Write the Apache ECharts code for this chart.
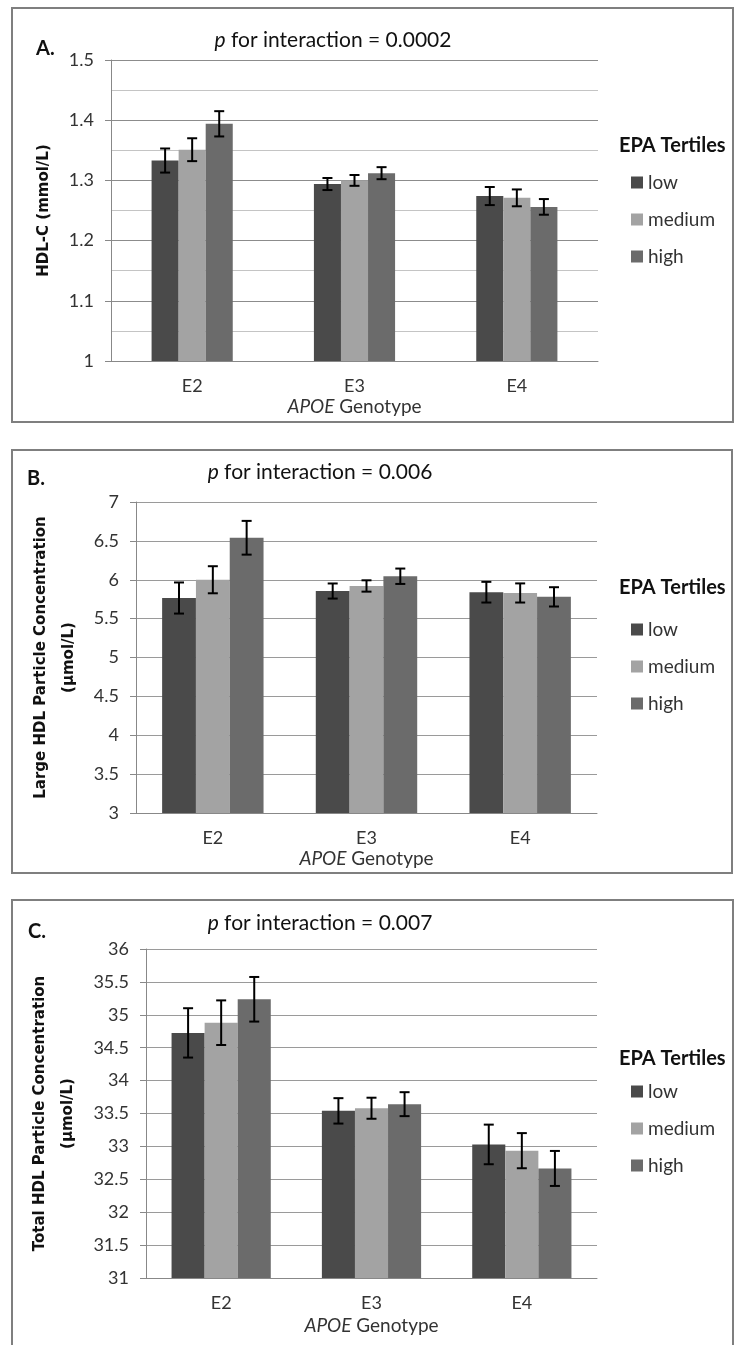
<!DOCTYPE html>
<html>
<head>
<meta charset="utf-8">
<script src="https://cdn.jsdelivr.net/npm/echarts/dist/echarts.min.js"></script>
<style>
html,body{margin:0;padding:0;background:#fff;}
#chart{width:734px;height:1345px;}
</style>
</head>
<body>
<div id="chart"></div>
<script>
// ---------- data ----------
const categories = ['E2', 'E3', 'E4'];
const tertiles = ['low', 'medium', 'high'];

// Panel A: HDL-C (mmol/L)
const hdlcLow = [1.333, 1.294, 1.274];
const hdlcMedium = [1.351, 1.300, 1.271];
const hdlcHigh = [1.394, 1.312, 1.256];
const hdlcLowErr = [0.020, 0.010, 0.015];
const hdlcMediumErr = [0.019, 0.009, 0.014];
const hdlcHighErr = [0.021, 0.010, 0.013];
const hdlcTicks = [1, 1.5, 0.1]; // min, max, step

// Panel B: Large HDL particle concentration (µmol/L)
const largeLow = [5.765, 5.855, 5.840];
const largeMedium = [6.000, 5.920, 5.830];
const largeHigh = [6.540, 6.045, 5.780];
const largeLowErr = [0.200, 0.097, 0.133];
const largeMediumErr = [0.174, 0.073, 0.123];
const largeHighErr = [0.217, 0.099, 0.124];
const largeTicks = [3, 7, 0.5];

// Panel C: Total HDL particle concentration (µmol/L)
const totalLow = [34.725, 33.540, 33.030];
const totalMedium = [34.880, 33.580, 32.935];
const totalHigh = [35.236, 33.642, 32.665];
const totalLowErr = [0.375, 0.193, 0.301];
const totalMediumErr = [0.339, 0.160, 0.267];
const totalHighErr = [0.339, 0.182, 0.266];
const totalTicks = [31, 36, 0.5];

const panelTitles = ['0.0002', '0.006', '0.007'];
const panelLetters = ['A.', 'B.', 'C.'];
const yNames = ['HDL-C (mmol/L)', 'Large HDL Particle Concentration\n(µmol/L)', 'Total HDL Particle Concentration\n(µmol/L)'];

// ---------- styling ----------
const colors = ['#4a4a4a', '#a3a3a3', '#6b6b6b'];
const LAT = 'Lato, "Open Sans", sans-serif';
const DJ = '"DejaVu Sans", Verdana, sans-serif';
const txt = '#333';

const grids = [
  {left: 111, right: 136, top: 60, bottom: 984},
  {left: 136, right: 137, top: 502, bottom: 532},
  {left: 146, right: 137, top: 949, bottom: 67}
];
const gaps = ['50%', '34%', '34%'];
const nameGaps = [52, 41, 51];
const boxes = [[12, 8, 721, 414], [12, 450, 720, 423], [12, 900, 721, 470]];
const titlePos = [[333, 40], [320, 472], [320, 923]];
const letterPos = [[36, 49], [27, 479], [28, 932]];
const legendHead = [146, 588, 1059];
const legendTop = [168, 615, 1077];

const panels = [
  {means: [hdlcLow, hdlcMedium, hdlcHigh], errs: [hdlcLowErr, hdlcMediumErr, hdlcHighErr], ticks: hdlcTicks},
  {means: [largeLow, largeMedium, largeHigh], errs: [largeLowErr, largeMediumErr, largeHighErr], ticks: largeTicks},
  {means: [totalLow, totalMedium, totalHigh], errs: [totalLowErr, totalMediumErr, totalHighErr], ticks: totalTicks}
];

const xAxes = [], yAxes = [], series = [], legends = [], graphics = [];

panels.forEach((p, gi) => {
  xAxes.push({
    type: 'category', gridIndex: gi, data: categories,
    axisLine: {lineStyle: {color: '#888', width: 1}},
    axisTick: {show: false},
    axisLabel: {color: txt, fontFamily: LAT, fontSize: 18, margin: 16},
    name: '{i|APOE}{n| Genotype}', nameLocation: 'middle', nameGap: gi === 2 ? 38 : 36,
    nameTextStyle: {
      rich: {
        i: {fontStyle: 'italic', fontFamily: LAT, fontSize: 19, color: txt},
        n: {fontFamily: LAT, fontSize: 19, color: txt}
      }
    }
  });
  const isA = gi === 0;
  yAxes.push({
    type: 'value', gridIndex: gi,
    min: p.ticks[0], max: p.ticks[1], interval: p.ticks[2],
    axisLine: {show: true, lineStyle: {color: '#888', width: 1}},
    axisTick: {show: true, length: 6, lineStyle: {color: '#888'}},
    axisLabel: {color: txt, fontFamily: LAT, fontSize: 18, margin: 17},
    splitLine: {show: true, lineStyle: {color: isA ? '#8c8c8c' : '#9a9a9a', width: 1}},
    minorTick: {show: false, splitNumber: 2},
    minorSplitLine: {show: isA, lineStyle: {color: '#c4c4c4', width: 1}},
    name: yNames[gi], nameLocation: 'middle', nameGap: nameGaps[gi],
    nameTextStyle: {fontFamily: DJ, fontWeight: 'bold', fontSize: 15, color: '#111', lineHeight: 28}
  });

  const g = parseFloat(gaps[gi]) / 100;
  tertiles.forEach((t, i) => {
    series.push({
      type: 'bar', name: t, xAxisIndex: gi, yAxisIndex: gi,
      data: p.means[i], barGap: '0%', barCategoryGap: gaps[gi],
      itemStyle: {color: colors[i]}, z: 2, silent: true
    });
  });
  const errData = [];
  p.means.forEach((arr, i) => arr.forEach((v, c) => errData.push([c, v, p.errs[i][c], i])));
  series.push({
    type: 'custom', name: 'SE ' + gi, xAxisIndex: gi, yAxisIndex: gi, z: 5, silent: true,
    data: errData, encode: {x: 0, y: 1},
    renderItem: (params, api) => {
      const ci = api.value(0), v = api.value(1), e = api.value(2), s = api.value(3);
      const base = api.coord([ci, v]);
      const cw = api.size([1, 0])[0];
      const bw = cw * (1 - g) / 3;
      const x = base[0] + (s - 1) * bw;
      const yt = api.coord([ci, v + e])[1];
      const yb = api.coord([ci, v - e])[1];
      const h = 5;
      const st = {stroke: '#000', lineWidth: 2};
      return {type: 'group', children: [
        {type: 'line', shape: {x1: x, y1: yt, x2: x, y2: yb}, style: st},
        {type: 'line', shape: {x1: x - h, y1: yt, x2: x + h, y2: yt}, style: st},
        {type: 'line', shape: {x1: x - h, y1: yb, x2: x + h, y2: yb}, style: st}
      ]};
    }
  });

  legends.push({
    data: tertiles, orient: 'vertical', left: 626, top: legendTop[gi],
    itemWidth: 12, itemHeight: 12, itemGap: 18, icon: 'rect',
    selectedMode: false,
    textStyle: {fontFamily: LAT, fontSize: 19, color: txt, padding: [0, 0, 0, 0]}
  });

  const b = boxes[gi];
  graphics.push({type: 'rect', shape: {x: b[0], y: b[1], width: b[2], height: b[3]},
    style: {fill: 'none', stroke: '#7f7f7f', lineWidth: 2}, z: 0});
  graphics.push({type: 'text', x: titlePos[gi][0], y: titlePos[gi][1],
    style: {
      text: '{i|p}{n| for interaction = ' + panelTitles[gi] + '}',
      align: 'center', verticalAlign: 'middle',
      rich: {
        i: {fontStyle: 'italic', fontWeight: 'normal', fontFamily: LAT, fontSize: 21, fill: '#111'},
        n: {fontWeight: 'normal', fontFamily: LAT, fontSize: 21, fill: '#111'}
      }
    }});
  graphics.push({type: 'text', x: letterPos[gi][0], y: letterPos[gi][1],
    style: {text: panelLetters[gi], fontFamily: LAT, fontWeight: 'bold', fontSize: 20, fill: '#111',
      align: 'left', verticalAlign: 'middle'}});
  graphics.push({type: 'text', x: 619, y: legendHead[gi],
    style: {text: 'EPA Tertiles', fontFamily: LAT, fontWeight: 'bold', fontSize: 20, fill: '#111',
      align: 'left', verticalAlign: 'middle'}});
});

const chart = echarts.init(document.getElementById('chart'), null, {renderer: 'canvas'});
chart.setOption({
  animation: false,
  backgroundColor: '#fff',
  grid: grids,
  xAxis: xAxes,
  yAxis: yAxes,
  legend: legends,
  series: series,
  graphic: graphics
});
</script>
</body>
</html>
